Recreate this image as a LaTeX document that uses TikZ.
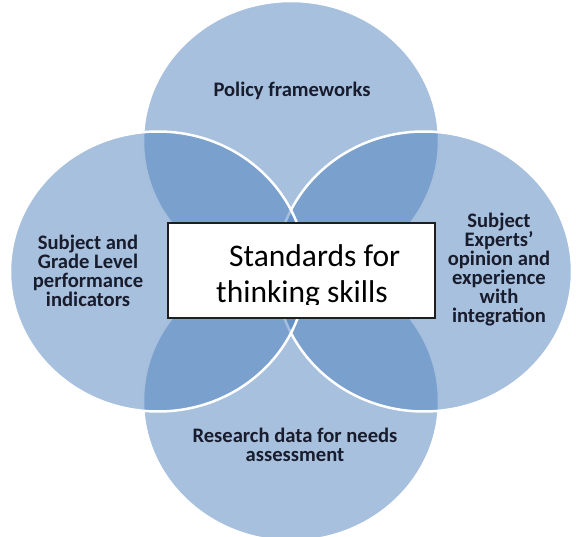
\documentclass[tikz,border=0pt]{standalone}
\usepackage{fontspec}
\setmainfont{Carlito}
\usetikzlibrary{shapes.geometric}
\definecolor{vennblue}{RGB}{79,129,189}
\definecolor{labelink}{RGB}{24,28,44}
\definecolor{boxline}{RGB}{30,30,30}
\begin{document}
\begin{tikzpicture}[x=1pt,y=-1pt,
  venn/.style={ellipse, draw=white, line width=2.5pt, fill=vennblue,
    fill opacity=0.5, draw opacity=1, minimum width=296pt,
    minimum height=280pt, inner sep=0pt},
  lbl/.style={anchor=north, align=center, inner sep=0pt, text=labelink,
    font={\fontsize{20.6}{19}\selectfont\bfseries\lineskiplimit=-100pt}},
  corebox/.style={draw=boxline, line width=1.5pt, fill=white,
    minimum width=267pt, minimum height=95pt, inner sep=0pt},
  coretitle/.style={anchor=north west, align=left, inner sep=0pt, text=black,
    font={\fontsize{31.5}{36}\selectfont\lineskiplimit=-100pt}}
]
\useasboundingbox (0,0) rectangle (576,537);
\clip (0,0) rectangle (576,537);

% the four overlapping circles, back to front
\node[venn] (policy)   at (291,141)   {};
\node[venn] (research) at (291,401)   {};
\node[venn] (experts)  at (424,271.5) {};
\node[venn] (grade)    at (158,271.5) {};

% central box with its (bottom-clipped) title
\node[corebox] (core) at (301.5,270.5) {};
\begin{scope}
  \clip (core.north west) rectangle ([yshift=14pt]core.south east);
  \node[coretitle] (coretext) at (216,241)
    {\rule{0pt}{25pt}\hspace*{13pt}Standards for\\thinking skills};
\end{scope}

% circle labels
\node[lbl] (policytext) at (292,80)
  {\rule{0pt}{16pt}Policy frameworks};
\node[lbl] (gradetext) at (88,233)
  {\rule{0pt}{16pt}Subject and\\Grade Level\\performance\\indicators};
\node[lbl] (expertstext) at (499,211)
  {\rule{0pt}{16pt}Subject\\Experts'\\opinion and\\experience\\with\\integration};
\node[lbl] (researchtext) at (295,426)
  {\rule{0pt}{16pt}Research data for needs\\assessment};
\end{tikzpicture}
\end{document}
